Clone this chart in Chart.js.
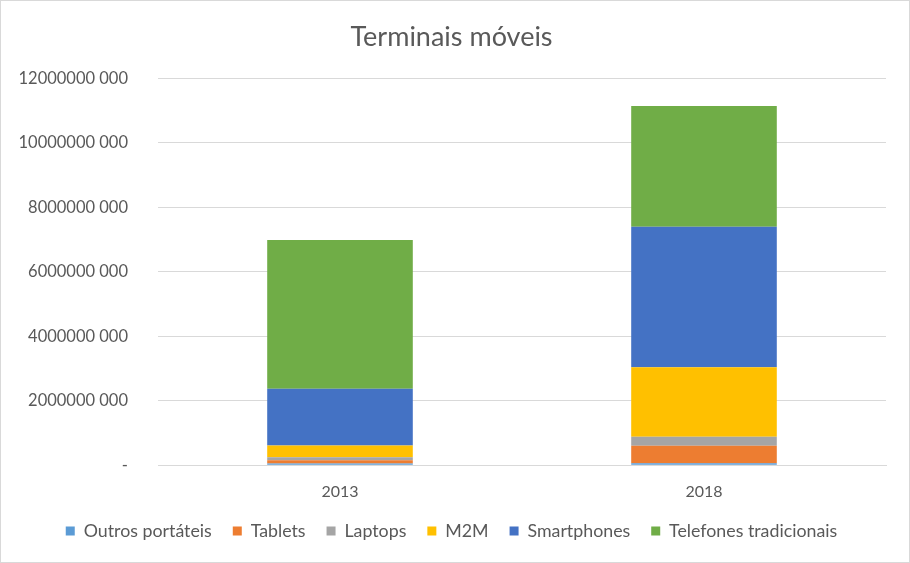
<!DOCTYPE html>
<html>
<head>
<meta charset="utf-8">
<script src="https://cdn.jsdelivr.net/npm/chart.js@4/dist/chart.umd.min.js"></script>
<style>
  html, body { margin: 0; padding: 0; background: #fff; }
  #wrap { width: 908px; height: 561px; border: 1px solid #d9d9d9; position: relative; }
</style>
</head>
<body>
<div id="wrap"><canvas id="chart" width="908" height="561"></canvas></div>
<script>
// Categories and series
const years = ['2013', '2018'];
const outrosPortateis = [50000000, 60000000];
const tablets = [100000000, 540000000];
const laptops = [100000000, 280000000];
const m2m = [360000000, 2160000000];
const smartphones = [1760000000, 4360000000];
const telefonesTradicionais = [4620000000, 3740000000];

const seriesNames = ['Outros portáteis', 'Tablets', 'Laptops', 'M2M', 'Smartphones', 'Telefones tradicionais'];
const seriesValues = [outrosPortateis, tablets, laptops, m2m, smartphones, telefonesTradicionais];
const seriesColors = ['#5b9bd5', '#ed7d31', '#a5a5a5', '#ffc000', '#4472c4', '#70ad47'];

const fontFamily = 'Lato, "Open Sans", sans-serif';
const textColor = '#595959';

const datasets = seriesNames.map((name, i) => ({
    label: name,
    data: seriesValues[i],
    backgroundColor: seriesColors[i],
    borderWidth: 0,
    barPercentage: 0.4,
    categoryPercentage: 1.0
}));

// Format ticks like "2000000 000" and zero as "-"
function formatTick(v) {
    if (v === 0) return '-';
    return Math.floor(v / 1000) + ' 000';
}

const ctx = document.getElementById('chart').getContext('2d');
new Chart(ctx, {
    type: 'bar',
    data: { labels: years, datasets: datasets },
    options: {
        responsive: false,
        animation: false,
        layout: { padding: { left: 16, right: 23, top: 8, bottom: 12 } },
        plugins: {
            title: {
                display: true,
                text: 'Terminais móveis',
                color: textColor,
                font: { family: fontFamily, size: 27, weight: 'normal' },
                padding: { top: 12, bottom: 25 }
            },
            legend: {
                position: 'bottom',
                labels: {
                    color: textColor,
                    font: { family: fontFamily, size: 17.8 },
                    boxWidth: 9,
                    boxHeight: 9,
                    padding: 21
                }
            },
            tooltip: { enabled: false }
        },
        scales: {
            x: {
                stacked: true,
                grid: { display: false, drawTicks: false },
                border: { color: '#d9d9d9' },
                ticks: { color: textColor, font: { family: fontFamily, size: 16 }, padding: 17 },
                // trim the axis strip a little so labels sit closer to the legend
                afterFit: function(scale) { scale.height = 36; }
            },
            y: {
                stacked: true,
                min: 0,
                max: 12000000000,
                ticks: {
                    stepSize: 2000000000,
                    color: textColor,
                    font: { family: fontFamily, size: 16.5 },
                    padding: 30,
                    callback: formatTick
                },
                grid: { color: '#d9d9d9', drawTicks: false },
                border: { display: false },
                afterFit: function(scale) { scale.width = 141; }
            }
        }
    }
});
</script>
</body>
</html>
